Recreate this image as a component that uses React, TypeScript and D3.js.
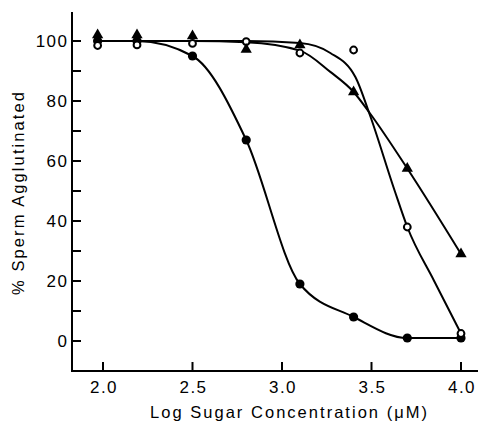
import React from "react";
import * as d3 from "d3";

// Data points
const xs = [1.97, 2.19, 2.5, 2.8, 3.1, 3.4, 3.7, 4.0];
const filledY = [100, 100, 95, 67, 19, 8, 1, 1];
const openY = [98.5, 98.7, 99.2, 99.8, 96, 97, 38, 2.5];
const triY = [102, 102, 101.7, 97.2, 98.7, 83, 57.5, 29];

// Fitted curves as drawn in the figure (knots)
const filledCurveX = [1.97, 2.19, 2.5, 2.8, 3.1, 3.4, 3.7, 4.0];
const filledCurveY = [100, 100, 95, 67, 19, 8, 1, 1];
const openCurveX = [1.97, 2.5, 2.8, 3.1, 3.27, 3.41, 3.49, 3.63, 3.7, 3.85, 4.0];
const openCurveY = [100, 100, 100, 99.3, 96, 88, 75.5, 50, 38, 20, 2.5];
const triCurveX = [1.97, 2.5, 2.8, 3.1, 3.27, 3.4, 3.49, 3.7, 4.0];
const triCurveY = [100, 100, 99.6, 96.8, 89.7, 83, 76, 57.5, 29];

const xTicks = [2.0, 2.5, 3.0, 3.5, 4.0];
const yTicks = [0, 20, 40, 60, 80, 100];
const yMinorTicks = [10, 30, 50, 70, 90];

const xTitle = "Log Sugar Concentration (\u03bcM)";
const yTitle = "% Sperm Agglutinated";

export default function App() {
  const W = 489;
  const H = 422;
  const x = d3.scaleLinear().domain([2.0, 4.0]).range([103, 461]);
  const y = d3.scaleLinear().domain([0, 100]).range([341, 41]);
  const axisX = 72;
  const axisY = 371;

  const line = d3
    .line<[number, number]>()
    .x((d) => x(d[0]))
    .y((d) => y(d[1]))
    .curve(d3.curveMonotoneX);

  const zip = (a: number[], b: number[]) => a.map((v, i) => [v, b[i]] as [number, number]);

  const tri = d3.symbol().type(d3.symbolTriangle).size(55)() as string;
  const font = "'Liberation Sans', Arial, Helvetica, sans-serif";

  return (
    <svg
      width={W}
      height={H}
      style={{ position: "absolute", left: 0, top: 0, background: "#fff" }}
      fontFamily={font}
    >
      <rect width={W} height={H} fill="#fff" />
      {/* axes */}
      <line x1={axisX} x2={axisX} y1={12} y2={axisY + 1} stroke="#000" strokeWidth={2} />
      <line x1={axisX - 1} x2={478} y1={axisY} y2={axisY} stroke="#000" strokeWidth={2} />
      {yTicks.concat(yMinorTicks).map((t) => (
        <line key={"yt" + t} x1={axisX} x2={axisX + 9} y1={y(t)} y2={y(t)} stroke="#000" strokeWidth={2} />
      ))}
      {yTicks.map((t) => (
        <text
          key={"yl" + t}
          x={68.5}
          y={y(t)}
          dy="0.36em"
          textAnchor="end"
          fontSize={17}
          letterSpacing={1.5}
          fill="#000"
        >
          {t}
        </text>
      ))}
      {xTicks.map((t) => (
        <line key={"xt" + t} x1={x(t)} x2={x(t)} y1={axisY} y2={axisY - 9} stroke="#000" strokeWidth={2} />
      ))}
      {xTicks.map((t) => (
        <text
          key={"xl" + t}
          x={x(t) + 1}
          y={393}
          textAnchor="middle"
          fontSize={17}
          letterSpacing={1.5}
          fill="#000"
        >
          {t.toFixed(1)}
        </text>
      ))}
      <text x={288.5} y={418} textAnchor="middle" fontSize={16.5} fill="#000" textLength={277} lengthAdjust="spacing">
        {xTitle}
      </text>
      <text
        transform={`translate(24,193.5) rotate(-90)`}
        textAnchor="middle"
        fontSize={16.5}
        fill="#000"
        textLength={203}
        lengthAdjust="spacing"
      >
        {yTitle}
      </text>

      {/* curves */}
      <path d={line(zip(filledCurveX, filledCurveY)) || ""} fill="none" stroke="#000" strokeWidth={2} />
      <path d={line(zip(openCurveX, openCurveY)) || ""} fill="none" stroke="#000" strokeWidth={2} />
      <path d={line(zip(triCurveX, triCurveY)) || ""} fill="none" stroke="#000" strokeWidth={2} />

      {/* markers */}
      {xs.map((v, i) => (
        <circle key={"f" + i} cx={x(v)} cy={y(filledY[i])} r={4.6} fill="#000" />
      ))}
      {xs.map((v, i) => (
        <circle key={"o" + i} cx={x(v)} cy={y(openY[i])} r={3.4} fill="#fff" stroke="#000" strokeWidth={2} />
      ))}
      {xs.map((v, i) => (
        <path key={"t" + i} d={tri} transform={`translate(${x(v)},${y(triY[i])})`} fill="#000" />
      ))}
    </svg>
  );
}
